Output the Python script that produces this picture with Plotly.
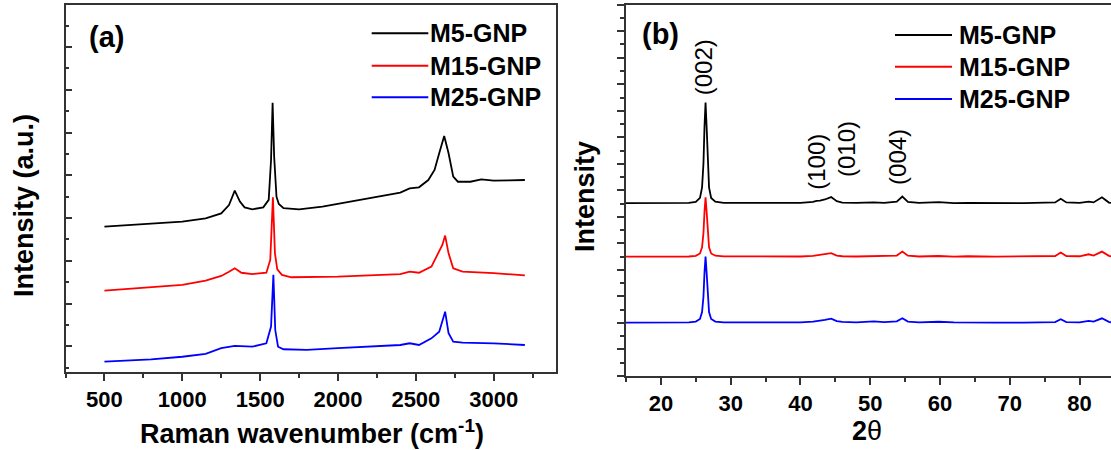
import plotly.graph_objects as go

# ---------------- Panel (a): Raman ----------------
raman_names = ["M5-GNP", "M15-GNP", "M25-GNP"]
raman_colors = ["#000000", "#ff0000", "#0000ff"]

m5_raman_x = [500, 800, 1000, 1150, 1250, 1300, 1337, 1370, 1400, 1450, 1520, 1555, 1570, 1580, 1590,
              1605, 1620, 1650, 1750, 1900, 2000, 2100, 2250, 2400, 2460, 2520, 2580, 2620, 2650, 2682,
              2710, 2740, 2770, 2850, 2920, 3000, 3100, 3200]
m5_raman_y = [6.60, 6.72, 6.83, 6.99, 7.22, 7.61, 8.28, 7.77, 7.50, 7.41, 7.50, 7.85, 9.72, 12.40, 9.87,
              8.00, 7.66, 7.46, 7.41, 7.53, 7.66, 7.77, 7.97, 8.19, 8.39, 8.44, 8.78, 9.25, 10.03, 10.84,
              10.03, 8.94, 8.70, 8.70, 8.81, 8.75, 8.76, 8.78]

m15_raman_x = [500, 800, 1000, 1150, 1250, 1300, 1337, 1380, 1450, 1540, 1565, 1582, 1595, 1610, 1640,
               1700, 1800, 2000, 2200, 2400, 2460, 2520, 2600, 2640, 2670, 2688, 2710, 2740, 2800, 3000, 3200]
m15_raman_y = [3.60, 3.76, 3.87, 4.07, 4.29, 4.49, 4.65, 4.44, 4.38, 4.44, 5.04, 7.97, 5.35, 4.60, 4.34,
               4.23, 4.23, 4.26, 4.32, 4.38, 4.49, 4.44, 4.73, 5.27, 5.74, 6.18, 5.35, 4.65, 4.49, 4.42, 4.32]

m25_raman_x = [500, 800, 1000, 1150, 1250, 1337, 1450, 1540, 1570, 1585, 1597, 1615, 1650, 1800, 2000,
               2200, 2400, 2460, 2520, 2600, 2650, 2688, 2710, 2740, 2800, 3000, 3200]
m25_raman_y = [0.28, 0.39, 0.51, 0.64, 0.91, 1.02, 0.98, 1.14, 1.92, 4.34, 1.76, 0.98, 0.86, 0.83, 0.91,
               0.98, 1.06, 1.14, 1.06, 1.37, 1.68, 2.62, 1.61, 1.22, 1.17, 1.14, 1.06]

# ---------------- Panel (b): XRD ----------------
xrd_two_theta = [15, 20, 24, 25.0, 25.6, 25.9, 26.1, 26.25, 26.4, 26.55, 26.7, 26.9, 27.2, 27.8, 29,
                 35, 40, 41.8, 42.3, 42.8, 43.5, 44.4, 45.2, 46, 48, 50.5, 52, 53.8, 54.6, 55.4,
                 57, 59.8, 62, 64, 68, 72, 76.5, 77.3, 78.1, 80, 81.3, 82, 83.2, 84.2, 84.5]
m5_xrd = [13.03, 13.03, 13.05, 13.13, 13.43, 14.23, 16.03, 18.83, 20.63, 18.83, 16.03, 14.23, 13.43, 13.15, 13.06,
          13.03, 13.05, 13.13, 13.21, 13.23, 13.31, 13.49, 13.18, 13.08, 13.05, 13.09, 13.05, 13.15, 13.53, 13.13,
          13.05, 13.11, 13.03, 13.05, 13.03, 13.03, 13.09, 13.36, 13.09, 13.06, 13.15, 13.09, 13.48, 13.08, 13.05]
m15_xrd = [9.00, 9.00, 9.01, 9.06, 9.24, 9.71, 10.77, 12.42, 13.48, 12.42, 10.77, 9.71, 9.24, 9.07, 9.02,
           9.00, 9.01, 9.06, 9.10, 9.12, 9.16, 9.26, 9.08, 9.03, 9.01, 9.04, 9.01, 9.08, 9.38, 9.07,
           9.01, 9.05, 9.00, 9.03, 9.00, 9.00, 9.05, 9.31, 9.05, 9.03, 9.18, 9.08, 9.38, 9.06, 9.03]
m25_xrd = [4.03, 4.03, 4.05, 4.10, 4.30, 4.82, 5.99, 7.82, 9.00, 7.82, 5.99, 4.82, 4.30, 4.10, 4.05,
           4.03, 4.04, 4.10, 4.16, 4.18, 4.24, 4.33, 4.14, 4.08, 4.05, 4.12, 4.06, 4.12, 4.35, 4.10,
           4.04, 4.09, 4.04, 4.05, 4.03, 4.02, 4.07, 4.28, 4.07, 4.05, 4.15, 4.10, 4.35, 4.08, 4.05]

hkl_labels = ["(002)", "(100)", "(010)", "(004)"]
hkl_x = [26.07, 42.36, 46.7, 54.0]
hkl_y = [23.3, 16.15, 17.13, 16.53]

raman_x = [m5_raman_x, m15_raman_x, m25_raman_x]
raman_y = [m5_raman_y, m15_raman_y, m25_raman_y]
xrd_y = [m5_xrd, m15_xrd, m25_xrd]

W, H = 1111, 450
FONT = "Liberation Sans, Arial, sans-serif"
AX = "#333333"


def px_x(p):
    return p / W


def px_y(p):
    return 1 - p / H


fig = go.Figure()
for i in range(3):
    fig.add_trace(go.Scatter(x=raman_x[i], y=raman_y[i], mode="lines", name=raman_names[i],
                             line=dict(color=raman_colors[i], width=1.8), xaxis="x", yaxis="y",
                             showlegend=False))
for i in range(3):
    fig.add_trace(go.Scatter(x=xrd_two_theta, y=xrd_y[i], mode="lines", name=raman_names[i],
                             line=dict(color=raman_colors[i], width=1.8), xaxis="x2", yaxis="y2",
                             showlegend=False))

tickfont = dict(family=FONT, size=22, color="black", weight="bold")

fig.update_layout(
    width=W, height=H, margin=dict(l=0, r=0, t=0, b=0),
    paper_bgcolor="white", plot_bgcolor="white",
    xaxis=dict(domain=[px_x(65.5), px_x(556)], range=[250, 3400], tick0=500, dtick=500,
               ticks="outside", ticklen=7, tickwidth=1.5, tickcolor=AX,
               minor=dict(dtick=250, ticks="outside", ticklen=4, tickwidth=1.5, tickcolor=AX),
               showline=True, linecolor=AX, linewidth=2, mirror=True, showgrid=False, zeroline=False,
               tickfont=tickfont, anchor="y"),
    yaxis=dict(domain=[px_y(371.7), px_y(5)], range=[-0.19, 16.97], tick0=1, dtick=2,
               ticks="inside", ticklen=6, tickwidth=1.5, tickcolor=AX,
               minor=dict(dtick=1, ticks="inside", ticklen=3, tickwidth=1.5, tickcolor=AX),
               showline=True, linecolor=AX, linewidth=2, mirror=True, showgrid=False, zeroline=False,
               showticklabels=False, anchor="x"),
    xaxis2=dict(domain=[px_x(626), 1.0], range=[15, 84.5], tick0=20, dtick=10,
                ticks="outside", ticklen=7, tickwidth=1.5, tickcolor=AX,
                minor=dict(dtick=5, ticks="outside", ticklen=4, tickwidth=1.5, tickcolor=AX),
                showline=True, linecolor=AX, linewidth=2, mirror=True, showgrid=False, zeroline=False,
                tickfont=tickfont, anchor="y2"),
    yaxis2=dict(domain=[px_y(376), px_y(4.7)], range=[0, 28], tick0=0, dtick=2,
                ticks="outside", ticklen=7, tickwidth=1.5, tickcolor=AX,
                minor=dict(dtick=1, ticks="outside", ticklen=4, tickwidth=1.5, tickcolor=AX),
                showline=True, linecolor=AX, linewidth=2, mirror=False, showgrid=False, zeroline=False,
                showticklabels=False, anchor="x2"),
)

ann = []
title_font = dict(family=FONT, size=27, color="black", weight="bold")
ann.append(dict(text="Raman wavenumber (cm<sup>-1</sup>)", x=px_x(312), y=px_y(432), xref="paper", yref="paper",
                showarrow=False, font=title_font, xanchor="center", yanchor="middle"))
ann.append(dict(text="Intensity (a.u.)", x=px_x(24), y=px_y(206), xref="paper", yref="paper", textangle=-90,
                showarrow=False, font=title_font, xanchor="center", yanchor="middle"))
ann.append(dict(text="2<span style='font-weight:normal'>θ</span>", x=px_x(867), y=px_y(431), xref="paper",
                yref="paper", showarrow=False, font=title_font, xanchor="center", yanchor="middle"))
ann.append(dict(text="Intensity", x=px_x(585), y=px_y(197), xref="paper", yref="paper", textangle=-90,
                showarrow=False, font=title_font, xanchor="center", yanchor="middle"))
panel_font = dict(family=FONT, size=29, color="black", weight="bold")
ann.append(dict(text="(a)", x=px_x(106), y=px_y(37), xref="paper", yref="paper", showarrow=False,
                font=panel_font, xanchor="center", yanchor="middle"))
ann.append(dict(text="(b)", x=px_x(660), y=px_y(34), xref="paper", yref="paper", showarrow=False,
                font=panel_font, xanchor="center", yanchor="middle"))
for t, hx, hy in zip(hkl_labels, hkl_x, hkl_y):
    ann.append(dict(text=t, x=hx, y=hy, xref="x2", yref="y2", textangle=-90, showarrow=False,
                    font=dict(family=FONT, size=24, color="black"), xanchor="center", yanchor="middle"))

# custom legends
shapes = []
leg_font = dict(family=FONT, size=25, color="black", weight="bold")
leg_a_y = [33.3, 65.7, 97.3]
leg_b_y = [35, 66.7, 99]
for i in range(3):
    shapes.append(dict(type="line", xref="paper", yref="paper", x0=px_x(371.7), x1=px_x(428.3),
                       y0=px_y(leg_a_y[i]), y1=px_y(leg_a_y[i]), line=dict(color=raman_colors[i], width=2)))
    ann.append(dict(text=raman_names[i], x=px_x(428), y=px_y(leg_a_y[i]), xref="paper", yref="paper",
                    showarrow=False, font=leg_font, xanchor="left", yanchor="middle"))
    shapes.append(dict(type="line", xref="paper", yref="paper", x0=px_x(895), x1=px_x(952),
                       y0=px_y(leg_b_y[i]), y1=px_y(leg_b_y[i]), line=dict(color=raman_colors[i], width=2)))
    ann.append(dict(text=raman_names[i], x=px_x(957), y=px_y(leg_b_y[i]), xref="paper", yref="paper",
                    showarrow=False, font=leg_font, xanchor="left", yanchor="middle"))

fig.update_layout(annotations=ann, shapes=shapes)
fig.write_html("out.html", config={"displayModeBar": False},
               post_script="document.body.style.margin='0';document.body.style.overflow='hidden';")
